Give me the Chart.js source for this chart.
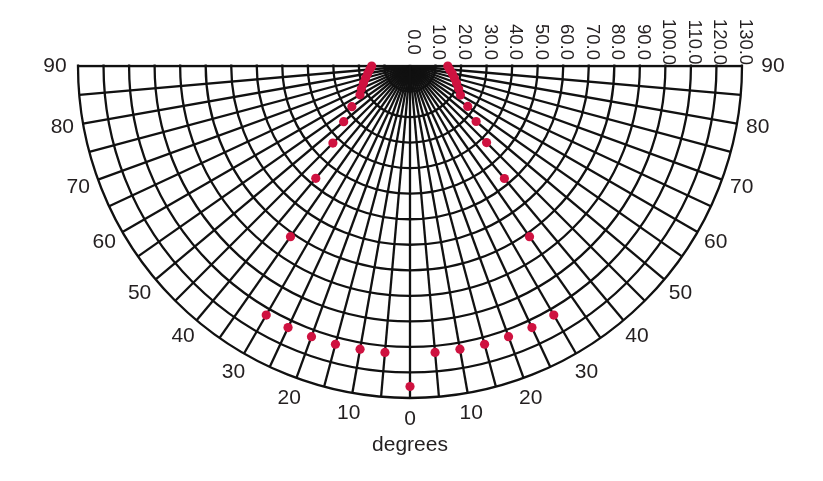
<!DOCTYPE html>
<html><head><meta charset="utf-8">
<script src="https://cdn.jsdelivr.net/npm/chart.js@4/dist/chart.umd.min.js"></script>
<style>
html,body{margin:0;padding:0;background:#fff;overflow:hidden;width:823px;height:481px;}
#wrap{position:absolute;left:0;top:-266px;width:823px;height:747px;}
</style></head><body>
<div id="wrap"><canvas id="c"></canvas></div>
<script>
// Spoke categories: clockwise angle from the bottom (degrees), every 5 degrees round the full circle
const spokeAngles = [0,5,10,15,20,25,30,35,40,45,50,55,60,65,70,75,80,85,90,95,100,105,110,115,120,125,130,135,140,145,150,155,160,165,170,175,180,185,190,195,200,205,210,215,220,225,230,235,240,245,250,255,260,265,270,275,280,285,290,295,300,305,310,315,320,325,330,335,340,345,350,355];
// Angular tick labels (shown on both sides)
const angleTickValues = [0,10,20,30,40,50,60,70,80,90];
// Radial ticks
const radialTickValues = [0,10,20,30,40,50,60,70,80,90,100,110,120,130];
const radialTickLabels = ['0.0','10.0','20.0','30.0','40.0','50.0','60.0','70.0','80.0','90.0','100.0','110.0','120.0','130.0'];
// Measured points: signed angle (negative = left side) and radial value
const pointAngles = [-90,-85,-80,-75,-70,-65,-60,-55,-50,-45,-40,-35,-30,-25,-20,-15,-10,-5,0,5,10,15,20,25,30,35,40,45,50,55,60,65,70,75,80,85,90];
const pointValues = [15.0,15.8,16.8,18.0,19.4,21.0,22.6,27.8,33.9,42.7,57.4,81.6,112.6,113.0,112.8,112.8,112.6,112.6,125.5,112.6,112.6,112.8,112.8,113.0,112.6,81.6,57.5,42.4,33.8,27.6,22.8,21.0,19.4,18.0,16.8,15.6,14.8];

const FONT = '"Liberation Sans", Arial, Helvetica, sans-serif';
const TEXT = '#231f20';
const GRID = '#111111';

function cwAngle(s){ return s <= 0 ? -s : 360 - s; }
const radarData = spokeAngles.map(() => null);
pointAngles.forEach((s, k) => { radarData[spokeAngles.indexOf(cwAngle(s))] = pointValues[k]; });

function isUpper(i){ const a = spokeAngles[i]; return a > 90 && a < 270; }

const halfClip = {
  id: 'halfClip',
  beforeDraw(chart){
    const r = chart.scales.r; const ctx = chart.ctx;
    ctx.save();
    ctx.beginPath();
    ctx.rect(0, r.yCenter - 1.5, chart.width, chart.height);
    ctx.clip();
  },
  beforeDatasetsDraw(chart){ chart.ctx.restore(); }
};

const polarLabels = {
  id: 'polarLabels',
  afterDraw(chart){
    const r = chart.scales.r; const ctx = chart.ctx;
    ctx.save();
    ctx.fillStyle = TEXT;
    // radial tick labels, rotated, above the horizontal axis on the right
    ctx.font = '18.5px ' + FONT;
    radialTickValues.forEach((v, i) => {
      const d = r.getDistanceFromCenterForValue(v);
      ctx.save();
      ctx.translate(r.xCenter + d + 3, r.yCenter - 24);
      ctx.rotate(Math.PI / 2);
      ctx.textAlign = 'center';
      ctx.textBaseline = 'middle';
      ctx.fillText(radialTickLabels[i], 0, 0);
      ctx.restore();
    });
    // angular labels
    ctx.font = '21px ' + FONT;
    ctx.textAlign = 'center';
    ctx.textBaseline = 'middle';
    angleTickValues.forEach(a => {
      const idxs = [spokeAngles.indexOf(a), spokeAngles.indexOf((360 - a) % 360)];
      [...new Set(idxs)].forEach(idx => {
        // the right-hand horizontal label sits a little further out, clear of the radial labels
        const extra = spokeAngles[idx] === 270 ? 10 : (spokeAngles[idx] === 90 ? 2 : 0);
        const p = r.getPointPosition(idx, r.drawingArea + 21 + extra);
        ctx.fillText(String(a), p.x, p.y);
      });
    });
    ctx.restore();
  }
};

new Chart(document.getElementById('c'), {
  type: 'radar',
  data: {
    labels: spokeAngles.map(String),
    datasets: [{
      data: radarData,
      showLine: false,
      borderWidth: 0,
      fill: false,
      backgroundColor: 'rgba(0,0,0,0)',
      pointBackgroundColor: '#cf1240',
      pointBorderWidth: 0,
      pointRadius: 4.6,
      pointHoverRadius: 4.6
    }]
  },
  options: {
    responsive: true,
    maintainAspectRatio: false,
    animation: false,
    events: [],
    layout: { padding: { left: 77, right: 80, top: 0, bottom: 23 } },
    plugins: {
      legend: { display: false },
      tooltip: { enabled: false },
      title: {
        display: true, text: 'degrees', position: 'bottom',
        color: TEXT, font: { family: FONT, size: 21, weight: 'normal' },
        padding: { top: 34, bottom: 0 }
      }
    },
    scales: {
      r: {
        min: 0, max: 130,
        startAngle: 180,
        ticks: { stepSize: 10, display: false },
        pointLabels: { display: false },
        grid: { circular: true, color: GRID, lineWidth: 2.3 },
        angleLines: {
          color: GRID,
          lineWidth: (c) => isUpper(c.index) ? 0 : 2.3
        }
      }
    }
  },
  plugins: [halfClip, polarLabels]
});
</script>
</body></html>
